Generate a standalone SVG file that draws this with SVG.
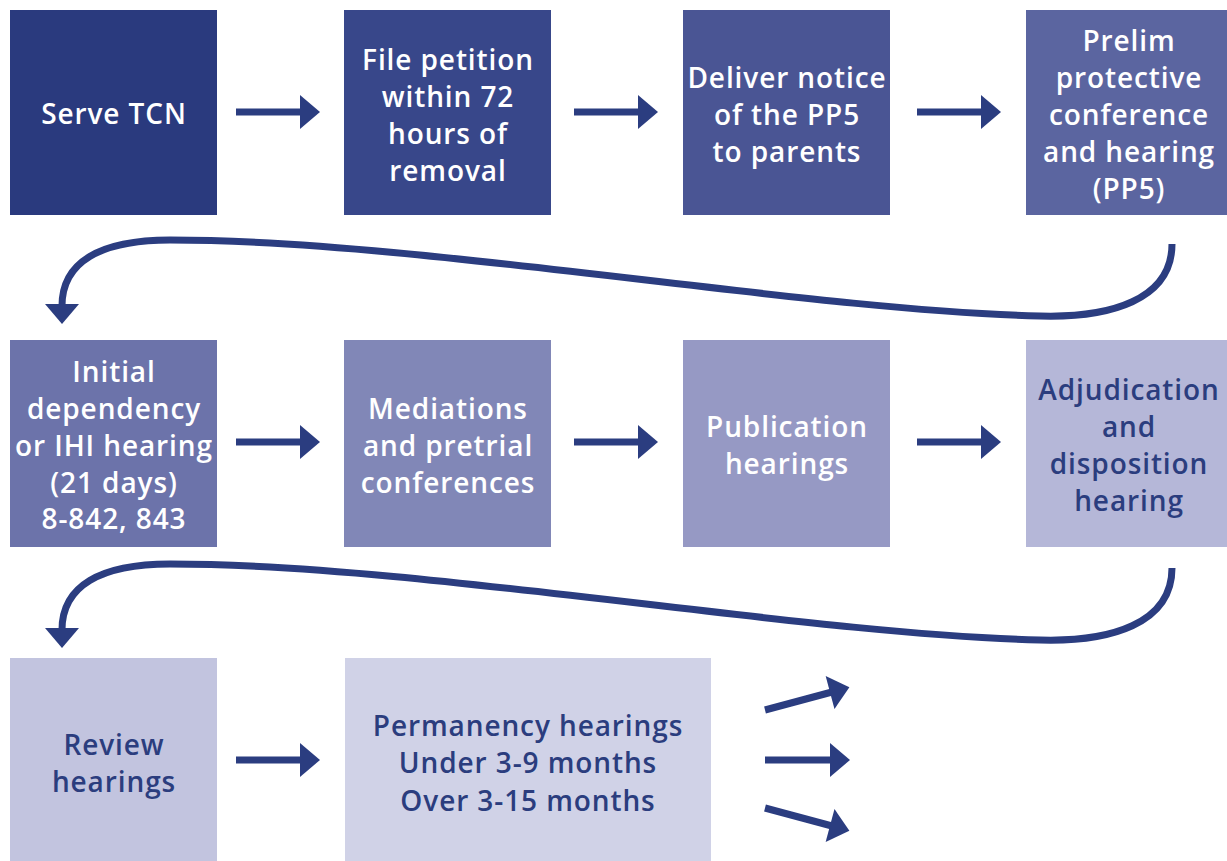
<svg xmlns="http://www.w3.org/2000/svg" width="1227" height="861" viewBox="0 0 1227 861">
<defs>
<style>
.t{font-family:"Open Sans",Lato,sans-serif;font-weight:600;font-size:28px;letter-spacing:0.9px;text-anchor:middle;dominant-baseline:central}
.w{fill:#ffffff}
.d{fill:#2b3d7e}
.c{fill:none;stroke:#2b3d80;stroke-width:7}
.a{fill:#2b3d80}
</style>
<marker id="ah" markerUnits="userSpaceOnUse" markerWidth="24" markerHeight="36" refX="4" refY="18" orient="auto" viewBox="0 0 24 36">
<path d="M2,1 L22,18 L2,35 Z" class="a"/>
</marker>
<marker id="ahd" markerUnits="userSpaceOnUse" markerWidth="24" markerHeight="36" refX="4" refY="18" orient="auto" viewBox="0 0 24 36">
<path d="M2,1 L22,18 L2,35 Z" class="a"/>
</marker>
</defs>
<rect width="1227" height="861" fill="#ffffff"/>
<g id="n1"><rect x="10" y="10" width="207" height="205" fill="#2a3a7e"/><text class="t w" x="114" y="113">Serve TCN</text></g>
<g id="n2"><rect x="344" y="10" width="207" height="205" fill="#38478a"/><text class="t w" x="448"><tspan x="448" y="59">File petition</tspan><tspan x="448" y="96">within 72</tspan><tspan x="448" y="133">hours of</tspan><tspan x="448" y="170">removal</tspan></text></g>
<g id="n3"><rect x="683" y="10" width="207" height="205" fill="#4a5594"/><text class="t w"><tspan x="787" y="77">Deliver notice</tspan><tspan x="787" y="114">of the PP5</tspan><tspan x="787" y="151">to parents</tspan></text></g>
<g id="n4"><rect x="1026" y="10" width="201" height="205" fill="#5b65a0"/><text class="t w"><tspan x="1129" y="40">Prelim</tspan><tspan x="1129" y="77">protective</tspan><tspan x="1129" y="114">conference</tspan><tspan x="1129" y="151">and hearing</tspan><tspan x="1129" y="188">(PP5)</tspan></text></g>
<g id="n5"><rect x="10" y="340" width="207" height="207" fill="#6c73aa"/><text class="t w"><tspan x="114" y="371">Initial</tspan><tspan x="114" y="408">dependency</tspan><tspan x="114" y="445">or IHI hearing</tspan><tspan x="114" y="482">(21 days)</tspan><tspan x="114" y="518">8-842, 843</tspan></text></g>
<g id="n6"><rect x="344" y="340" width="207" height="207" fill="#8187b7"/><text class="t w"><tspan x="448" y="408">Mediations</tspan><tspan x="448" y="445">and pretrial</tspan><tspan x="448" y="482">conferences</tspan></text></g>
<g id="n7"><rect x="683" y="340" width="207" height="207" fill="#9699c4"/><text class="t w"><tspan x="787" y="426">Publication</tspan><tspan x="787" y="463">hearings</tspan></text></g>
<g id="n8"><rect x="1026" y="340" width="201" height="207" fill="#b5b7d8"/><text class="t d"><tspan x="1129" y="389">Adjudication</tspan><tspan x="1129" y="426">and</tspan><tspan x="1129" y="463">disposition</tspan><tspan x="1129" y="500">hearing</tspan></text></g>
<g id="n9"><rect x="10" y="658" width="207" height="203" fill="#c2c4df"/><text class="t d"><tspan x="114" y="744">Review</tspan><tspan x="114" y="781">hearings</tspan></text></g>
<g id="n10"><rect x="345" y="658" width="366" height="203" fill="#d0d2e7"/><text class="t d"><tspan x="528" y="725">Permanency hearings</tspan><tspan x="528" y="762">Under 3-9 months</tspan><tspan x="528" y="800">Over 3-15 months</tspan></text></g>
<g id="connectors">
<line class="c" x1="236" y1="112" x2="302" y2="112" marker-end="url(#ah)"/>
<line class="c" x1="574" y1="112" x2="640" y2="112" marker-end="url(#ah)"/>
<line class="c" x1="917" y1="112" x2="983" y2="112" marker-end="url(#ah)"/>
<line class="c" x1="236" y1="442" x2="302" y2="442" marker-end="url(#ah)"/>
<line class="c" x1="574" y1="442" x2="640" y2="442" marker-end="url(#ah)"/>
<line class="c" x1="917" y1="442" x2="983" y2="442" marker-end="url(#ah)"/>
<line class="c" x1="236" y1="760" x2="302" y2="760" marker-end="url(#ah)"/>
<line class="c" x1="765" y1="710" x2="832" y2="692" marker-end="url(#ah)"/>
<line class="c" x1="765" y1="760" x2="832" y2="760" marker-end="url(#ah)"/>
<line class="c" x1="765" y1="808" x2="832" y2="826" marker-end="url(#ah)"/>
<path class="c" d="M1172,244 C1172,300 1110,318 1040,316 C800,310 420,240 170,240 C100,240 62,262 62,306" marker-end="url(#ahd)"/>
<path class="c" d="M1172,568 C1172,624 1110,642 1040,640 C800,634 420,564 170,564 C100,564 62,586 62,630" marker-end="url(#ahd)"/>
</g>
</svg>
